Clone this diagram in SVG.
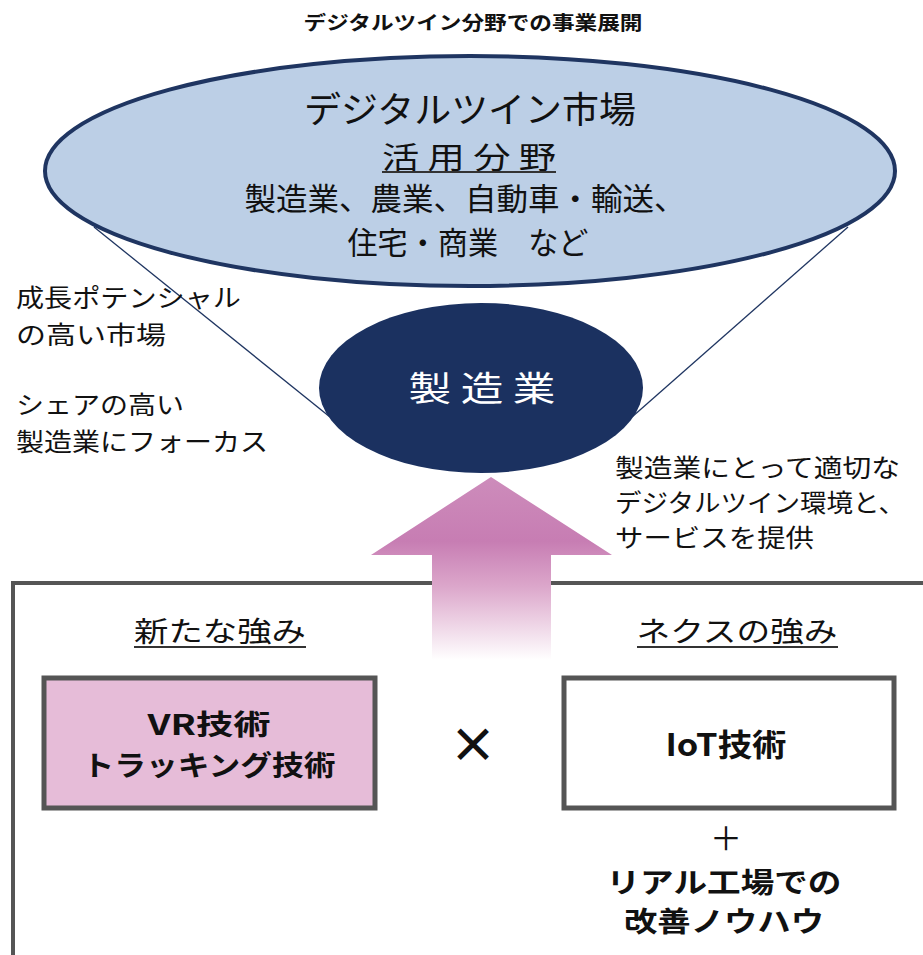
<svg xmlns="http://www.w3.org/2000/svg" width="923" height="955" viewBox="0 0 923 955">
<style>
text{font-family:"Noto Sans CJK JP","Noto Sans",sans-serif;fill:#111;}
.b{font-weight:bold;}
.ul{stroke:#333;stroke-width:2;}
.box{stroke:#555;stroke-width:5;}
</style>
<defs>
<linearGradient id="ag" x1="0" y1="477" x2="0" y2="660" gradientUnits="userSpaceOnUse">
<stop offset="0" stop-color="#cd8cbb"/>
<stop offset="0.35" stop-color="#c77db3"/>
<stop offset="0.6" stop-color="#dca7cb"/>
<stop offset="1" stop-color="#ffffff"/>
</linearGradient>
</defs>
<rect width="923" height="955" fill="#fff"/>
<text class="b" x="473" y="30" font-size="19" text-anchor="middle" textLength="339" lengthAdjust="spacingAndGlyphs">デジタルツイン分野での事業展開</text>

<g id="frame">
<path d="M13 955 V583 H923" fill="none" stroke="#555" stroke-width="4"/>
</g>

<g id="connectors">
<line x1="94" y1="227" x2="330" y2="417" stroke="#1f3561" stroke-width="1.3"/>
<line x1="848" y1="227" x2="632" y2="417" stroke="#1f3561" stroke-width="1.3"/>
<path id="arrow" d="M491 477 L612 555 L551 555 L551 660 L432 660 L432 555 L371 555 Z" fill="url(#ag)"/>
</g>

<g id="market">
<ellipse cx="470" cy="171" rx="425" ry="115" fill="#bccfe6" stroke="#1f3561" stroke-width="4"/>
<text x="470" y="123" font-size="36" text-anchor="middle" textLength="332" lengthAdjust="spacingAndGlyphs">デジタルツイン市場</text>
<text x="469" y="168" font-size="30" text-anchor="middle" textLength="174" lengthAdjust="spacingAndGlyphs">活 用 分 野</text>
<line class="ul" x1="382" y1="172" x2="556" y2="172"/>
<text x="465" y="210" font-size="31" text-anchor="middle" textLength="441" lengthAdjust="spacingAndGlyphs">製造業、農業、自動車・輸送、</text>
<text x="468" y="254" font-size="31" text-anchor="middle" textLength="241" lengthAdjust="spacingAndGlyphs">住宅・商業　など</text>
</g>

<g id="manufacturing">
<ellipse cx="481" cy="388" rx="162" ry="85" fill="#1b3160"/>
<text x="482" y="401" font-size="34" text-anchor="middle" textLength="147" lengthAdjust="spacingAndGlyphs" style="fill:#fff">製 造 業</text>
</g>

<g id="left-notes">
<text x="16" y="307" font-size="25" textLength="225" lengthAdjust="spacingAndGlyphs">成長ポテンシャル</text>
<text x="16" y="344" font-size="25" textLength="150" lengthAdjust="spacingAndGlyphs">の高い市場</text>
<text x="16" y="414" font-size="25" textLength="168" lengthAdjust="spacingAndGlyphs">シェアの高い</text>
<text x="16" y="451" font-size="25" textLength="252" lengthAdjust="spacingAndGlyphs">製造業にフォーカス</text>
</g>

<g id="right-notes">
<text x="615" y="477" font-size="25" textLength="285" lengthAdjust="spacingAndGlyphs">製造業にとって適切な</text>
<text x="615" y="512" font-size="25" textLength="290" lengthAdjust="spacingAndGlyphs">デジタルツイン環境と、</text>
<text x="615" y="547" font-size="25" textLength="199" lengthAdjust="spacingAndGlyphs">サービスを提供</text>
</g>

<g id="new-strength">
<text x="220" y="642" font-size="28" text-anchor="middle" textLength="172" lengthAdjust="spacingAndGlyphs">新たな強み</text>
<line class="ul" x1="134" y1="647" x2="306" y2="647"/>
</g>

<g id="nexus-strength">
<text x="737" y="642" font-size="28" text-anchor="middle" textLength="201" lengthAdjust="spacingAndGlyphs">ネクスの強み</text>
<line class="ul" x1="637" y1="647" x2="838" y2="647"/>
</g>

<g id="vr-box">
<rect class="box" x="44" y="678" width="331" height="130" fill="#e6bcd8"/>
<text class="b" x="209" y="735" font-size="28" text-anchor="middle" textLength="123" lengthAdjust="spacingAndGlyphs">VR技術</text>
<text class="b" x="209" y="776" font-size="28" text-anchor="middle" textLength="253" lengthAdjust="spacingAndGlyphs">トラッキング技術</text>
</g>

<g id="times">
<text class="b" x="473" y="762" font-size="48" text-anchor="middle">×</text>
</g>

<g id="iot-box">
<rect class="box" x="564" y="678" width="330" height="130" fill="#fff"/>
<text class="b" x="726" y="756" font-size="31" text-anchor="middle" textLength="121" lengthAdjust="spacingAndGlyphs">IoT技術</text>
</g>

<g id="knowhow">
<text x="726" y="850" font-size="32" text-anchor="middle">＋</text>
<text class="b" x="724" y="893" font-size="28" text-anchor="middle" textLength="235" lengthAdjust="spacingAndGlyphs">リアル工場での</text>
<text class="b" x="724" y="932" font-size="28" text-anchor="middle" textLength="200" lengthAdjust="spacingAndGlyphs">改善ノウハウ</text>
</g>
</svg>
